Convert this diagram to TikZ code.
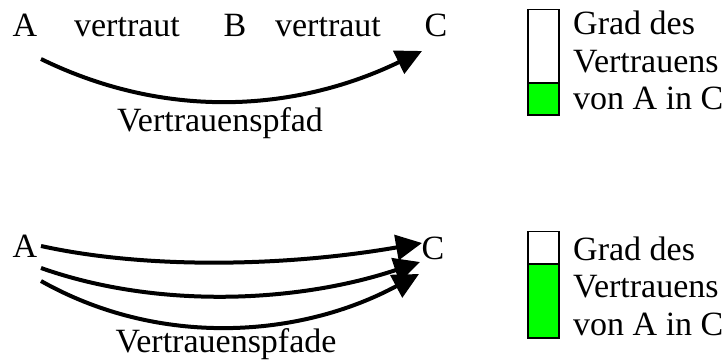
\documentclass[tikz,border=0pt]{standalone}
\usepackage{fontspec}
\setmainfont{Liberation Serif}
\usetikzlibrary{arrows.meta}
\definecolor{trustgreen}{RGB}{0,255,0}
\begin{document}
\begin{tikzpicture}[x=1pt,y=-1pt,
  lbl/.style={inner sep=0pt,anchor=base,font=\fontsize{34}{38}\selectfont},
  legend/.style={inner sep=0pt,anchor=base west,align=left,font=\fontsize{34}{37.5}\selectfont},
  path/.style={line width=4pt,-{Triangle[length=26pt,width=25pt]}},
  bar/.style={draw,line width=1.5pt}]
\useasboundingbox (0,0) rectangle (722,363);

% single trust path
\node[lbl] (A1) at (25,37) {A};
\node[lbl] (t1) at (127,37) {vertraut};
\node[lbl] (B1) at (235,37) {B};
\node[lbl] (t2) at (328,37) {vertraut};
\node[lbl] (C1) at (436,37) {C};
\coordinate (s1) at (41,59);
\coordinate (e1) at (422,51);
\draw[path] (s1) .. controls (170,122) and (300,110) .. (e1);
\node[lbl] (p1) at (220,131.5) {Vertrauenspfad};

% several trust paths
\node[lbl] (A2) at (25,258) {A};
\node[lbl] (C2) at (433,259) {C};
\coordinate (s2a) at (41,246);
\coordinate (e2a) at (422,243);
\coordinate (s2b) at (41,268);
\coordinate (e2b) at (420,262);
\coordinate (s2c) at (41,281);
\coordinate (e2c) at (419,274);
\draw[path] (s2a) .. controls (150,270) and (290,266) .. (e2a);
\draw[path] (s2b) .. controls (160,310) and (300,302) .. (e2b);
\draw[path] (s2c) .. controls (160,348) and (300,338) .. (e2c);
\node[lbl] (p2) at (226,352.5) {Vertrauenspfade};

% degree-of-trust bars (anchored at the baseline of the last legend line)
\fill[trustgreen] (528,83) rectangle (559,115);
\draw[bar] (528,9.5) rectangle (559,115);
\draw[bar] (528,83) -- (559,83);
\node[legend] (g1) at (573,110) {Grad des\\Vertrauens\\von A in C};

\fill[trustgreen] (528,264) rectangle (559,338);
\draw[bar] (528,231.5) rectangle (559,338);
\draw[bar] (528,264) -- (559,264);
\node[legend] (g2) at (573,335) {Grad des\\Vertrauens\\von A in C};
\end{tikzpicture}
\end{document}
